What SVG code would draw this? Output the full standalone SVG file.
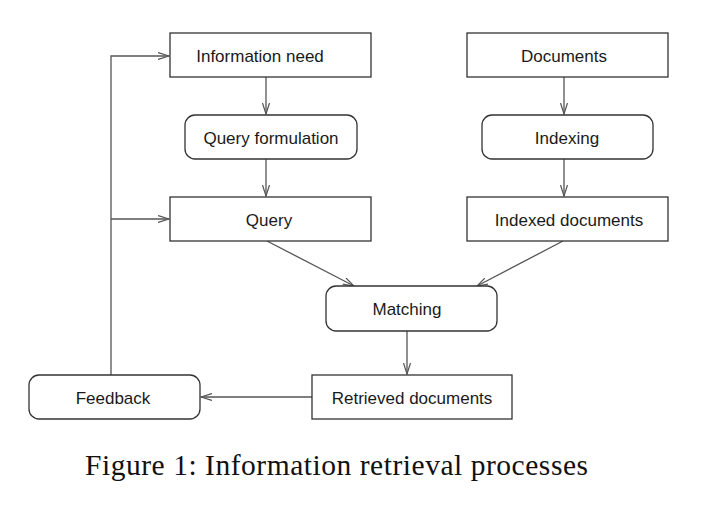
<svg xmlns="http://www.w3.org/2000/svg" width="721" height="523" viewBox="0 0 721 523">
<style>
.box{fill:#fff;stroke:#333;stroke-width:1.3}
.lbl{font-family:"Liberation Sans",Arial,sans-serif;font-size:17px;fill:#1a1a1a;text-anchor:middle}
.con{fill:none;stroke:#555;stroke-width:1.3}
.cap{font-family:"Liberation Serif","Times New Roman",serif;font-size:29.5px;fill:#111;text-anchor:middle}
</style>
<defs>
<marker id="arr" viewBox="0 0 12 8" refX="11" refY="4" markerWidth="12" markerHeight="8" markerUnits="userSpaceOnUse" orient="auto">
<path d="M0,0.5 L11,4 L0,7.5" fill="none" stroke="#555" stroke-width="1.2"/>
</marker>
</defs>
<rect width="721" height="523" fill="#fff"/>
<g id="connectors">
<line class="con" x1="266" y1="77" x2="266" y2="114" marker-end="url(#arr)"/>
<line class="con" x1="266" y1="159" x2="266" y2="196" marker-end="url(#arr)"/>
<line class="con" x1="564" y1="77" x2="564" y2="114" marker-end="url(#arr)"/>
<line class="con" x1="564" y1="159" x2="564" y2="196" marker-end="url(#arr)"/>
<line class="con" x1="267" y1="241" x2="354" y2="286" marker-end="url(#arr)"/>
<line class="con" x1="563" y1="241" x2="477" y2="286" marker-end="url(#arr)"/>
<line class="con" x1="407" y1="331" x2="407" y2="374" marker-end="url(#arr)"/>
<line class="con" x1="312" y1="397" x2="201" y2="397" marker-end="url(#arr)"/>
<polyline class="con" points="111,375 111,56 169,56" marker-end="url(#arr)"/>
<line class="con" x1="111" y1="219" x2="169" y2="219" marker-end="url(#arr)"/>
</g>
<g id="info-need"><rect class="box" x="170" y="33" width="201" height="44"/><text class="lbl" x="260" y="62">Information need</text></g>
<g id="query-formulation"><rect class="box" x="185" y="115" width="172" height="44" rx="10"/><text class="lbl" x="271" y="144">Query formulation</text></g>
<g id="query"><rect class="box" x="170" y="197" width="201" height="44"/><text class="lbl" x="269" y="226">Query</text></g>
<g id="documents"><rect class="box" x="467" y="33" width="201" height="44"/><text class="lbl" x="564" y="62">Documents</text></g>
<g id="indexing"><rect class="box" x="482" y="115" width="171" height="44" rx="10"/><text class="lbl" x="567" y="144">Indexing</text></g>
<g id="indexed-documents"><rect class="box" x="467" y="197" width="201" height="44"/><text class="lbl" x="569" y="226">Indexed documents</text></g>
<g id="matching"><rect class="box" x="326" y="286" width="171" height="45" rx="10"/><text class="lbl" x="407" y="315">Matching</text></g>
<g id="retrieved-documents"><rect class="box" x="312" y="375" width="200" height="44"/><text class="lbl" x="412" y="404">Retrieved documents</text></g>
<g id="feedback"><rect class="box" x="29" y="375" width="171" height="44" rx="10"/><text class="lbl" x="113" y="404">Feedback</text></g>
<text class="cap" x="336.5" y="475" textLength="503" lengthAdjust="spacing">Figure 1: Information retrieval processes</text>
</svg>
